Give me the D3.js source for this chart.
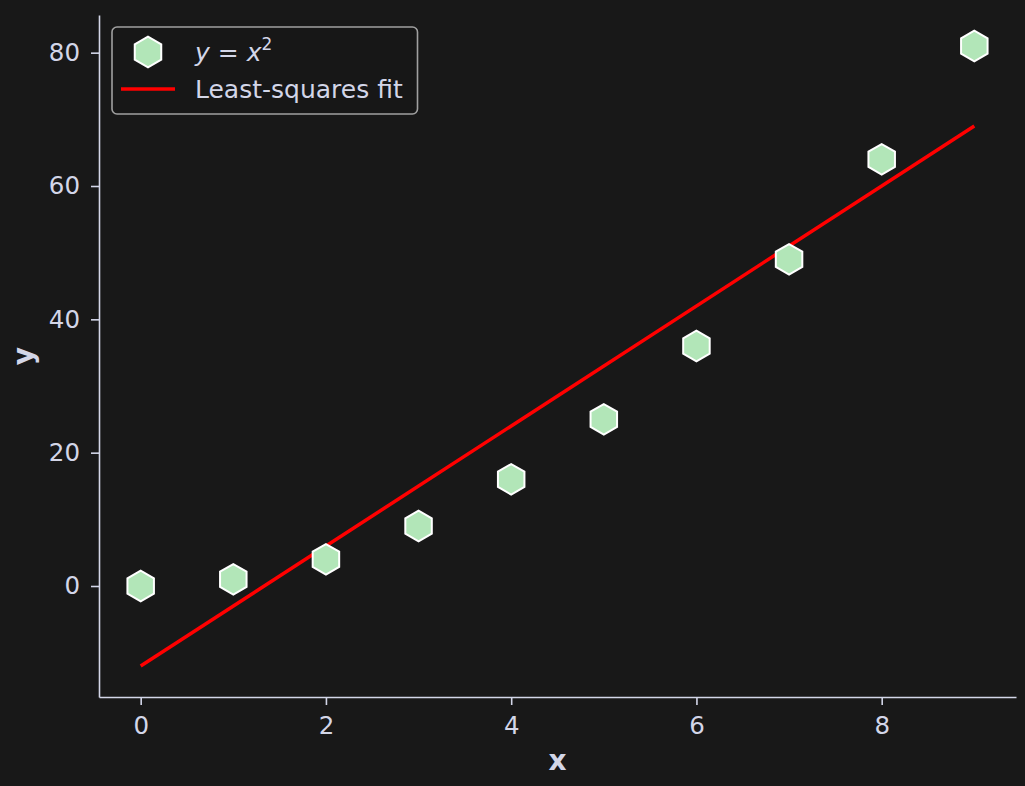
<!DOCTYPE html>
<meta charset="utf-8">
<script src="https://d3js.org/d3.v7.min.js"></script>
<style>
  body { margin: 0; background: #181818; }
  svg { display: block; }
</style>
<div id="chart"></div>
<script>
// data: y = x^2 and its least-squares line
var xs = [0, 1, 2, 3, 4, 5, 6, 7, 8, 9];
var ys = [0, 1, 4, 9, 16, 25, 36, 49, 64, 81];
var fitX = [0, 9];
var fitY = [-12, 69];
var xTicks = [0, 2, 4, 6, 8];
var yTicks = [0, 20, 40, 60, 80];

var W = 1025, H = 786;
var mLeft = 99, mRight = 1016, mTop = 15, mBottom = 697;
var fg = "#d3d6e8";

var svg = d3.select("#chart").append("svg")
  .attr("width", W).attr("height", H)
  .style("font-family", "DejaVu Sans");

svg.append("rect").attr("width", W).attr("height", H).attr("fill", "#181818");

var x = d3.scaleLinear().domain([-0.45, 9.45]).range([mLeft, mRight]);
var y = d3.scaleLinear().domain([-16.65, 85.65]).range([mBottom, mTop]);

var xAxis = svg.append("g")
  .attr("transform", "translate(0," + mBottom + ")")
  .call(d3.axisBottom(x).tickValues(xTicks).tickSize(8).tickPadding(12).tickSizeOuter(0));
var yAxis = svg.append("g")
  .attr("transform", "translate(" + mLeft + ",0)")
  .call(d3.axisLeft(y).tickValues(yTicks).tickSize(8).tickPadding(11).tickSizeOuter(0));

[xAxis, yAxis].forEach(function(g) {
  g.select(".domain").attr("stroke", fg).attr("stroke-width", 1.6);
  g.selectAll(".tick line").attr("stroke", fg).attr("stroke-width", 1.6);
  g.selectAll(".tick text").attr("fill", fg).style("font-size", "24.5px").style("font-family", "DejaVu Sans");
});

svg.append("text")
  .attr("x", (mLeft + mRight) / 2).attr("y", 770)
  .attr("text-anchor", "middle").attr("fill", fg)
  .style("font-size", "28px").style("font-weight", "bold")
  .text("x");
svg.append("text")
  .attr("transform", "translate(33," + ((mTop + mBottom) / 2) + ") rotate(-90)")
  .attr("text-anchor", "middle").attr("fill", fg)
  .style("font-size", "28px").style("font-weight", "bold")
  .text("y");

// fit line
var line = d3.line().x(function(d) { return x(d[0]); }).y(function(d) { return y(d[1]); });
svg.append("path")
  .datum(fitX.map(function(v, i) { return [v, fitY[i]]; }))
  .attr("d", line)
  .attr("fill", "none").attr("stroke", "#ff0000").attr("stroke-width", 3.5);

// hexagon marker (pointy top)
function hexPath(r) {
  var pts = d3.range(6).map(function(i) {
    var a = Math.PI / 2 + i * Math.PI / 3;
    return [r * Math.cos(a), -r * Math.sin(a)];
  });
  return "M" + pts.join("L") + "Z";
}

svg.append("g").selectAll("path")
  .data(xs.map(function(v, i) { return [v, ys[i]]; }))
  .join("path")
  .attr("d", hexPath(15.3))
  .attr("transform", function(d) { return "translate(" + x(d[0]) + "," + y(d[1]) + ")"; })
  .attr("fill", "#b2e6b8").attr("stroke", "#ffffff").attr("stroke-width", 2);

// legend
var lg = svg.append("g");
lg.append("rect")
  .attr("x", 112).attr("y", 27).attr("width", 305.5).attr("height", 87)
  .attr("rx", 5).attr("fill", "#181818").attr("fill-opacity", 0.8)
  .attr("stroke", "#a0a0a0").attr("stroke-width", 1.6);
lg.append("path")
  .attr("d", hexPath(15.3))
  .attr("transform", "translate(148,52)")
  .attr("fill", "#b2e6b8").attr("stroke", "#ffffff").attr("stroke-width", 2);
var t1 = lg.append("text").attr("x", 195).attr("y", 61).attr("fill", fg).style("font-size", "25px");
t1.append("tspan").style("font-style", "italic").text("y");
t1.append("tspan").text(" = ");
t1.append("tspan").style("font-style", "italic").text("x");
t1.append("tspan").attr("dy", -11).style("font-size", "17px").text("2");
lg.append("line")
  .attr("x1", 121).attr("x2", 175).attr("y1", 89).attr("y2", 89)
  .attr("stroke", "#ff0000").attr("stroke-width", 3.5);
lg.append("text").attr("x", 195).attr("y", 98).attr("fill", fg).style("font-size", "25px")
  .text("Least-squares fit");
</script>
